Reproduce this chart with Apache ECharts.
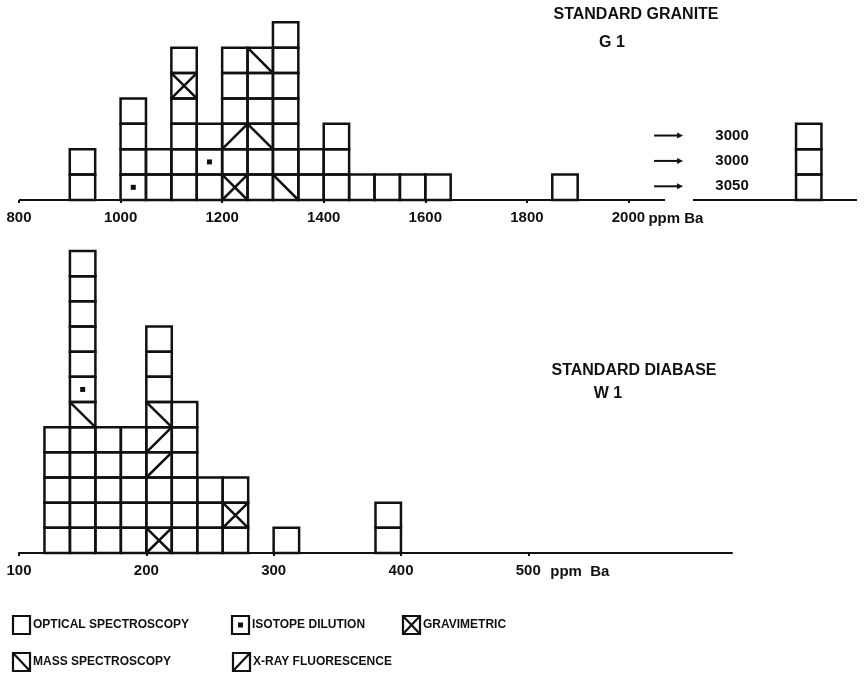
<!DOCTYPE html>
<html>
<head>
<meta charset="utf-8">
<script src="https://cdn.jsdelivr.net/npm/echarts@6/dist/echarts.min.js"></script>
<style>
  html, body { margin: 0; padding: 0; background: #fff; }
  #chart { width: 864px; height: 683px; }
</style>
</head>
<body>
<div id="chart"></div>
<script>
// Each column lists its determinations bottom-up, one letter per box:
// O optical spectroscopy, I isotope dilution, G gravimetric,
// M mass spectroscopy, X X-ray fluorescence
const graniteBinStart = [900, 1000, 1050, 1100, 1150, 1200, 1250, 1300, 1350, 1400, 1450, 1500, 1550, 1600, 1850];
const graniteBoxes    = ['OO', 'IOOO', 'OO', 'OOOOGO', 'OIO', 'GOXOOO', 'OOMOOM', 'MOOOOOO', 'OO', 'OOO', 'O', 'O', 'O', 'O', 'O'];
const graniteBinWidth = 50;
const graniteTicks    = [800, 1000, 1200, 1400, 1600, 1800, 2000];
// off-scale results, bottom-up, stacked in a separate column
const graniteHigh     = [3050, 3000, 3000];
const graniteHighAt   = 2330;

const diabaseBinStart = [120, 140, 160, 180, 200, 220, 240, 260, 300, 380];
const diabaseBoxes    = ['OOOOO', 'OOOOOMIOOOOO', 'OOOOO', 'OOOOO', 'GOOXXMOOO', 'OOOOOO', 'OOO', 'OGO', 'O', 'OO'];
const diabaseBinWidth = 20;
const diabaseTicks    = [100, 200, 300, 400, 500];

const methodNames = ['OPTICAL SPECTROSCOPY', 'ISOTOPE DILUTION', 'GRAVIMETRIC', 'MASS SPECTROSCOPY', 'X-RAY FLUORESCENCE'];
const METHOD = { O: 0, I: 1, G: 2, M: 3, X: 4 };

const INK = '#111';
const FONT = '"Liberation Sans", Arial, sans-serif';
const LW = 2.5;

const chart = echarts.init(document.getElementById('chart'), null, { renderer: 'canvas' });

// box outline plus the method symbol inside it
function boxShapes(L, T, R, B, m, lw) {
  const line = (x1, y1, x2, y2) => ({ type: 'line', shape: { x1, y1, x2, y2 }, style: { stroke: INK, lineWidth: lw, lineCap: 'butt' } });
  const out = [{ type: 'rect', shape: { x: L, y: T, width: R - L, height: B - T }, style: { fill: null, stroke: INK, lineWidth: lw, lineJoin: 'miter' } }];
  if (m === 1) {
    const cx = (L + R) / 2, cy = (T + B) / 2;
    out.push({ type: 'rect', shape: { x: cx - 2.5, y: cy - 2.5, width: 5, height: 5 }, style: { fill: INK } });
  } else if (m === 2) {
    out.push(line(L, T, R, B), line(L, B, R, T));
  } else if (m === 3) {
    out.push(line(L, T, R, B));
  } else if (m === 4) {
    out.push(line(L, B, R, T));
  }
  return out;
}

function buildBoxes(starts, codes, width) {
  const rows = [];
  starts.forEach((s, i) => {
    [...codes[i]].forEach((c, lv) => rows.push([s, s + width, lv, METHOD[c]]));
  });
  return rows;
}

function renderBox(params, api) {
  const a = api.coord([api.value(0), api.value(2)]);
  const b = api.coord([api.value(1), api.value(2) + 1]);
  return { type: 'group', children: boxShapes(a[0], b[1], b[0], a[1], api.value(3), LW) };
}

function renderHigh(params, api) {
  const a = api.coord([api.value(0), api.value(2)]);
  const b = api.coord([api.value(1), api.value(2) + 1]);
  const L = a[0], R = b[0], B = a[1], T = b[1];
  const cy = (T + B) / 2 - 1;
  const children = boxShapes(L, T, R, B, 0, LW);
  children.push(
    { type: 'line', shape: { x1: L - 142, y1: cy, x2: L - 117, y2: cy }, style: { stroke: INK, lineWidth: 2 } },
    { type: 'polygon', shape: { points: [[L - 113, cy], [L - 119, cy - 3], [L - 119, cy + 3]] }, style: { fill: INK } },
    { type: 'text', style: {
        text: String(graniteHigh[api.value(3)]), x: L - 64, y: cy,
        align: 'center', verticalAlign: 'middle', textAlign: 'center', textVerticalAlign: 'middle',
        fontFamily: FONT, fontSize: 15, fontWeight: 'bold', fill: INK } }
  );
  return { type: 'group', children };
}

const tickLabel = { fontFamily: FONT, fontSize: 15, fontWeight: 'bold', color: INK, formatter: v => String(v) };

const option = {
  backgroundColor: '#fff',
  animation: false,
  grid: [
    { left: 19, right: 7, top: 2, bottom: 483 },
    { left: 19, right: 132, top: 246, bottom: 130 }
  ],
  xAxis: [
    {
      gridIndex: 0, type: 'value', min: 800, max: 2450,
      axisLine: { show: false },
      axisTick: { show: true, customValues: graniteTicks, length: 3, lineStyle: { color: INK, width: 2 } },
      axisLabel: Object.assign({ customValues: graniteTicks, margin: 10 }, tickLabel),
      splitLine: { show: false }
    },
    {
      gridIndex: 1, type: 'value', min: 100, max: 660,
      axisLine: { show: true, lineStyle: { color: INK, width: 2 } },
      axisTick: { show: true, customValues: diabaseTicks, length: 3, lineStyle: { color: INK, width: 2 } },
      axisLabel: Object.assign({ customValues: diabaseTicks, margin: 10 }, tickLabel),
      splitLine: { show: false }
    }
  ],
  yAxis: [
    { gridIndex: 0, type: 'value', min: 0, max: 7.8, show: false },
    { gridIndex: 1, type: 'value', min: 0, max: 12.2, show: false }
  ],
  series: [
    {
      // granite baseline, interrupted before the off-scale column
      type: 'line', xAxisIndex: 0, yAxisIndex: 0, symbol: 'none', clip: false, silent: true,
      lineStyle: { color: INK, width: 2 },
      data: [[800, 0], [2072, 0], [2100, '-'], [2127, 0], [2450, 0]]
    },
    {
      type: 'custom', xAxisIndex: 0, yAxisIndex: 0, clip: false, silent: true,
      encode: { x: [0, 1], y: 2 },
      data: buildBoxes(graniteBinStart, graniteBoxes, graniteBinWidth),
      renderItem: renderBox
    },
    {
      type: 'custom', xAxisIndex: 0, yAxisIndex: 0, clip: false, silent: true,
      encode: { x: [0, 1], y: 2 },
      data: graniteHigh.map((v, i) => [graniteHighAt, graniteHighAt + graniteBinWidth, i, i]),
      renderItem: renderHigh
    },
    {
      type: 'custom', xAxisIndex: 1, yAxisIndex: 1, clip: false, silent: true,
      encode: { x: [0, 1], y: 2 },
      data: buildBoxes(diabaseBinStart, diabaseBoxes, diabaseBinWidth),
      renderItem: renderBox
    }
  ]
};

chart.setOption(option);

function text(str, x, y, size, align) {
  return {
    type: 'text', x, y, silent: true,
    style: {
      text: str, align: align, textAlign: align, verticalAlign: 'middle', textVerticalAlign: 'middle',
      fontFamily: FONT, fontSize: size, fontWeight: 'bold', fill: INK
    }
  };
}

function legendItem(x, y, m, label) {
  return {
    type: 'group', x, y, silent: true,
    children: boxShapes(0, 0, 17, 18, m, 2.2).concat([text(label, 20, 9, 12, 'left')])
  };
}

const g0 = chart.convertToPixel({ xAxisIndex: 0 }, 2000);
const g1 = chart.convertToPixel({ xAxisIndex: 1 }, 500);

chart.setOption({
  graphic: [
    text('STANDARD GRANITE', 636, 15, 16, 'center'),
    text('G 1', 612, 43, 16, 'center'),
    text('STANDARD DIABASE', 634, 371, 16, 'center'),
    text('W 1', 608, 394, 16, 'center'),
    text('ppm Ba', g0 + 20, 219, 15, 'left'),
    text('ppm  Ba', g1 + 22, 572, 15, 'left'),
    legendItem(13, 616, 0, methodNames[0]),
    legendItem(232, 616, 1, methodNames[1]),
    legendItem(403, 616, 2, methodNames[2]),
    legendItem(13, 653, 3, methodNames[3]),
    legendItem(233, 653, 4, methodNames[4])
  ]
});
</script>
</body>
</html>
